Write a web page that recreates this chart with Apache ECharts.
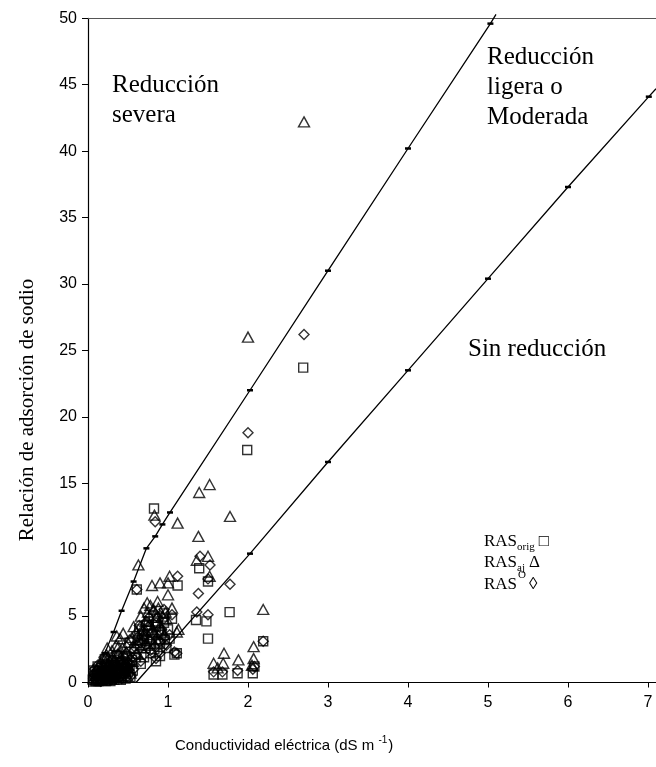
<!DOCTYPE html>
<html><head><meta charset="utf-8">
<script src="https://cdn.jsdelivr.net/npm/echarts@6/dist/echarts.min.js"></script>
<style>html,body{margin:0;padding:0;background:#fff}#c{width:656px;height:767px}</style>
</head><body><div id="c"></div>
<script>
// ---- data ----
const xTicks = [0,1,2,3,4,5,6,7];
const yTicks = [0,5,10,15,20,25,30,35,40,45,50];
// Upper boundary (severe / slight-moderate)
const upperLine = [[0.065,0],[0.21,2.2],[0.32,3.8],[0.42,5.4],[0.57,7.6],[0.73,10.1],[0.84,11.0],[0.93,11.9],[1.025,12.8],[2.025,22.0],[3.0,31.0],[4.0,40.2],[5.03,49.6],[5.1,50.3]];
// Lower boundary (slight-moderate / none)
const lowerLine = [[0.6,0],[2.025,9.7],[3.0,16.6],[4.0,23.5],[5.0,30.4],[6.0,37.3],[7.01,44.1],[7.1,44.7]];
const rasOrig = [[2.69,23.7],[1.99,17.5],[0.825,13.1],[1.39,8.6],[1.12,7.3],[1.50,7.6],[1.77,5.3],[1.35,4.7],[1.48,4.6],[1.50,3.3],[1.11,2.2],[2.19,3.1],[1.57,0.6],[1.68,0.6],[1.87,0.7],[2.06,0.7],[2.08,1.2],[0.61,7.0],
[0.62,3.2],[0.68,3.6],[0.72,2.6],[0.75,3.9],[0.80,3.4],[0.85,4.2],[0.88,3.0],[0.92,3.7],[0.95,4.5],[0.98,2.6],[1.02,3.3],[0.70,1.9],[0.78,2.2],[0.66,1.4],[0.58,2.5],[0.55,1.7],[0.85,1.6],[0.90,2.0],[1.05,4.8],[0.95,5.2],[0.82,5.0],[0.76,4.6],[0.64,4.0],[0.52,3.0],[0.48,2.0],[0.45,1.3],[1.0,4.0],[0.88,3.8],[0.74,3.1],
[0.60,1.9],[0.65,2.8],[0.70,3.3],[0.78,2.9],[0.83,2.5],[0.90,2.9],[0.96,3.2],[0.73,4.3],[0.87,4.6],[1.08,2.1],
[0.09,0.8],[0.21,1.75],[0.12,0.3],[0.15,0.5],[0.18,0.2],[0.20,0.8],[0.24,0.4],[0.27,1.0],[0.30,0.6],[0.32,1.3],[0.35,0.9],[0.38,1.5],[0.40,0.7],[0.42,1.1],[0.13,0.1],[0.17,1.1],[0.22,0.1],[0.26,0.3],[0.29,1.6],[0.33,0.2],[0.36,2.0],[0.44,1.8],[0.10,0.1],[0.14,0.9],[0.19,0.5],[0.23,1.3],[0.28,0.5],[0.31,0.9],[0.37,0.4],[0.41,1.5],
[0.06,0.2],[0.08,0.5],[0.11,0.6],[0.16,0.3],[0.21,0.5],[0.25,0.8],[0.29,0.2],[0.34,0.6],[0.39,0.3],[0.43,0.5],[0.47,0.3],[0.50,0.8],[0.46,1.0],[0.53,0.4],[0.49,1.4],
[0.07,0.9],[0.12,1.2],[0.15,0.1],[0.18,0.7],[0.22,0.9],[0.25,1.2],[0.28,0.1],[0.31,0.4],[0.34,1.1],[0.38,0.9],[0.41,0.2],[0.45,0.7],[0.48,1.1],[0.52,1.3],[0.56,0.9]];
const rasAj = [[2.70,42.2],[2.0,26.0],[1.52,14.9],[1.39,14.3],[1.775,12.5],[1.12,12.0],[1.38,11.0],[0.83,12.6],[1.36,9.2],[1.50,9.5],[1.52,8.0],[2.19,5.5],[1.11,3.8],[2.07,2.7],[1.70,2.2],[1.57,1.45],[1.69,1.45],[1.88,1.7],[2.07,1.8],[0.63,8.85],[0.80,7.3],[0.90,7.5],[1.0,7.5],[1.02,8.0],[1.0,6.6],[1.13,4.0],[1.62,1.1],[2.05,1.3],
[0.70,5.6],[0.75,5.3],[0.78,5.8],[0.82,5.5],[0.85,4.9],[0.88,5.6],[0.93,5.0],[0.72,4.6],[0.65,4.2],[0.60,3.8],[0.55,3.4],[0.50,3.0],[0.57,2.6],[0.68,3.2],[0.80,4.0],[0.90,4.3],[0.98,4.8],[1.05,5.6],[0.62,2.2],[0.47,2.0],[0.42,1.6],[0.75,2.8],[0.85,3.3],[0.95,3.6],[0.57,4.2],[0.44,3.7],
[0.62,3.0],[0.67,3.7],[0.72,3.9],[0.77,4.4],[0.83,3.8],[0.92,4.0],[0.97,5.3],[0.87,6.1],[0.74,6.0],[0.66,5.0],
[0.15,0.8],[0.20,1.3],[0.25,1.9],[0.30,2.4],[0.35,2.8],[0.40,3.3],[0.28,1.2],[0.33,1.7],[0.38,2.2],[0.22,0.5],[0.18,0.3],[0.12,0.2],[0.27,0.7],[0.32,1.0],[0.43,2.6],[0.45,1.3],[0.36,3.5],[0.24,2.6],[0.14,1.4],[0.10,0.5],
[0.07,0.3],[0.09,0.1],[0.13,0.6],[0.17,0.9],[0.21,0.2],[0.26,0.4],[0.30,0.9],[0.35,0.5],[0.39,1.0],[0.42,0.4],[0.46,0.8],[0.50,1.6],[0.53,0.7],[0.48,2.3],[0.27,1.6],[0.31,2.0],[0.19,1.8],[0.23,2.1],
[0.08,0.7],[0.11,1.0],[0.16,0.2],[0.19,0.6],[0.23,1.0],[0.26,1.3],[0.29,0.3],[0.33,0.6],[0.37,1.3],[0.41,1.9],[0.44,0.9],[0.49,0.5],[0.52,1.1],[0.56,1.6],[0.38,2.7]];
const rasO = [[2.70,26.2],[2.0,18.8],[0.84,12.1],[1.40,9.5],[1.525,8.85],[1.775,7.4],[1.38,6.7],[1.36,5.3],[1.50,5.1],[1.12,8.0],[1.11,2.2],[2.19,3.1],[1.57,0.8],[1.68,0.8],[1.87,0.9],[2.06,1.0],[2.08,1.2],[0.61,7.0],[1.50,7.8],
[0.62,3.4],[0.68,3.9],[0.72,2.8],[0.75,4.2],[0.80,3.7],[0.85,4.5],[0.88,3.2],[0.92,4.0],[0.95,4.8],[0.98,2.8],[1.02,3.6],[0.70,2.1],[0.78,2.4],[0.66,1.6],[0.58,2.7],[0.55,1.9],[0.85,1.8],[0.90,2.2],[1.05,5.1],[0.95,5.5],[0.82,5.3],[0.76,4.9],[0.64,4.3],[0.52,3.2],[0.48,2.2],[0.45,1.5],
[0.60,2.1],[0.65,3.0],[0.70,3.5],[0.78,3.1],[0.83,2.7],[0.90,3.1],[0.96,3.4],[0.73,4.6],[0.87,4.9],[1.08,2.3],
[0.11,0.9],[0.20,1.9],[0.13,0.4],[0.16,0.6],[0.19,0.3],[0.21,0.9],[0.25,0.5],[0.28,1.1],[0.31,0.7],[0.33,1.4],[0.36,1.0],[0.39,1.6],[0.41,0.8],[0.43,1.2],[0.14,0.2],[0.18,1.2],[0.23,0.2],[0.27,0.4],[0.30,1.7],[0.34,0.3],[0.37,2.1],[0.45,1.9],
[0.07,0.6],[0.09,0.2],[0.12,0.7],[0.17,0.4],[0.22,0.6],[0.26,0.9],[0.30,0.3],[0.35,0.7],[0.40,0.4],[0.44,0.6],[0.48,0.4],[0.51,0.9],[0.47,1.1],[0.54,0.5],[0.50,1.5],
[0.08,1.0],[0.12,1.3],[0.16,0.1],[0.19,0.8],[0.23,0.9],[0.26,1.3],[0.29,0.2],[0.32,0.5],[0.35,1.2],[0.39,1.0],[0.42,0.3],[0.46,0.8],[0.49,1.2],[0.53,1.4],[0.57,1.0]];
const xName = 'Conductividad eléctrica (dS m ';
const yName = 'Relación de adsorción de sodio';

// ---- layout helpers ----
const cv = document.createElement('canvas').getContext('2d');
function tw(t, font){ cv.font = font; return cv.measureText(t).width; }
const SERIF = '"Liberation Serif","Times New Roman",serif';
const SANS = '"Liberation Sans",Arial,sans-serif';

const chart = echarts.init(document.getElementById('c'), null, {renderer:'canvas'});

function lineSeries(data){
  return {
    type:'line', data:data, silent:true, z:3, clip:false,
    lineStyle:{color:'#000', width:1.3},
    symbol:function(v,p){ return (p.dataIndex===0 || p.dataIndex===data.length-1) ? 'none' : 'rect'; },
    symbolSize:[6,2.5], itemStyle:{color:'#000'}, showAllSymbol:true
  };
}
function scatterSeries(data, symbol, size){
  return {
    type:'scatter', data:data, symbol:symbol, symbolSize:size, silent:true, z:4,
    itemStyle:{color:'rgba(0,0,0,0)', borderColor:'#000', borderWidth:1.4}
  };
}

// graphic texts (y given as baseline)
const g = [];
function txt(x, baseline, text, size, family){
  g.push({type:'text', x:x, y:baseline - 0.8*size, silent:true,
    style:{text:text, font:size+'px '+family, fill:'#000', align:'left', verticalAlign:'top'}});
}
txt(112, 93, 'Reducción', 25, SERIF);
txt(112, 123, 'severa', 25, SERIF);
txt(487, 65, 'Reducción', 25, SERIF);
txt(487, 95, 'ligera o', 25, SERIF);
txt(487, 125, 'Moderada', 25, SERIF);
txt(468, 357, 'Sin reducción', 25, SERIF);

// legend text
const LS = 17, SS = 11;
const lx = 484;
const legendRows = [['orig','□',547,'sub'],['aj','Δ',568,'sub'],['O','◊',590,'sup']];
legendRows.forEach(function(r){
  const w = tw('RAS', LS+'px '+SERIF);
  txt(lx, r[2], 'RAS', LS, SERIF);
  const sb = r[3]==='sub' ? r[2]+3 : r[2]-12;
  txt(lx+w+(r[3]==='sup'?1:0), sb, r[0], SS, SERIF);
  const w2 = tw(r[0], SS+'px '+SERIF);
  txt(lx+w+w2+4, r[2], r[1], LS, SERIF);
});

// x axis name with superscript
const XS = 15, XSS = 10;
const w1 = tw(xName, XS+'px '+SANS), w2 = tw('-1', XSS+'px '+SANS);
const xStart = 175;
txt(xStart, 750, xName, XS, SANS);
txt(xStart+w1, 743, '-1', XSS, SANS);
txt(xStart+w1+w2+1, 750, ')', XS, SANS);

// y axis name, rotated
g.push({type:'text', x:27, y:410, rotation:Math.PI/2, silent:true,
  style:{text:yName, font:'21px '+SERIF, fill:'#000', align:'center', verticalAlign:'middle'}});

chart.setOption({
  animation:false,
  backgroundColor:'#fff',
  grid:{left:88, right:0, top:18.3, bottom:84.5, containLabel:false},
  xAxis:[{
    type:'value', min:0, max:7.1, interval:1,
    axisLine:{show:true, lineStyle:{color:'#000', width:1.2}},
    axisTick:{show:true, length:5, lineStyle:{color:'#000'}},
    axisLabel:{color:'#000', fontFamily:SANS, fontSize:16, margin:12, showMaxLabel:false,
      formatter:function(v){ return xTicks.indexOf(v)>=0 ? String(v) : ''; }},
    splitLine:{show:false}
  },{
    type:'value', position:'top', min:0, max:7.1,
    axisLine:{show:true, onZero:false, lineStyle:{color:'#555', width:1.2}},
    axisTick:{show:false}, axisLabel:{show:false}, splitLine:{show:false}
  }],
  yAxis:{
    type:'value', min:0, max:50, interval:5,
    axisLine:{show:true, lineStyle:{color:'#000', width:1.2}},
    axisTick:{show:true, length:6, lineStyle:{color:'#000'}},
    axisLabel:{color:'#000', fontFamily:SANS, fontSize:16, margin:11,
      formatter:function(v){ return yTicks.indexOf(v)>=0 ? String(v) : ''; }},
    splitLine:{show:false}
  },
  series:[
    lineSeries(upperLine),
    lineSeries(lowerLine),
    scatterSeries(rasOrig, 'rect', 9),
    scatterSeries(rasAj, 'triangle', [11,10]),
    scatterSeries(rasO, 'diamond', 10)
  ],
  graphic:g
});
</script>
</body></html>
